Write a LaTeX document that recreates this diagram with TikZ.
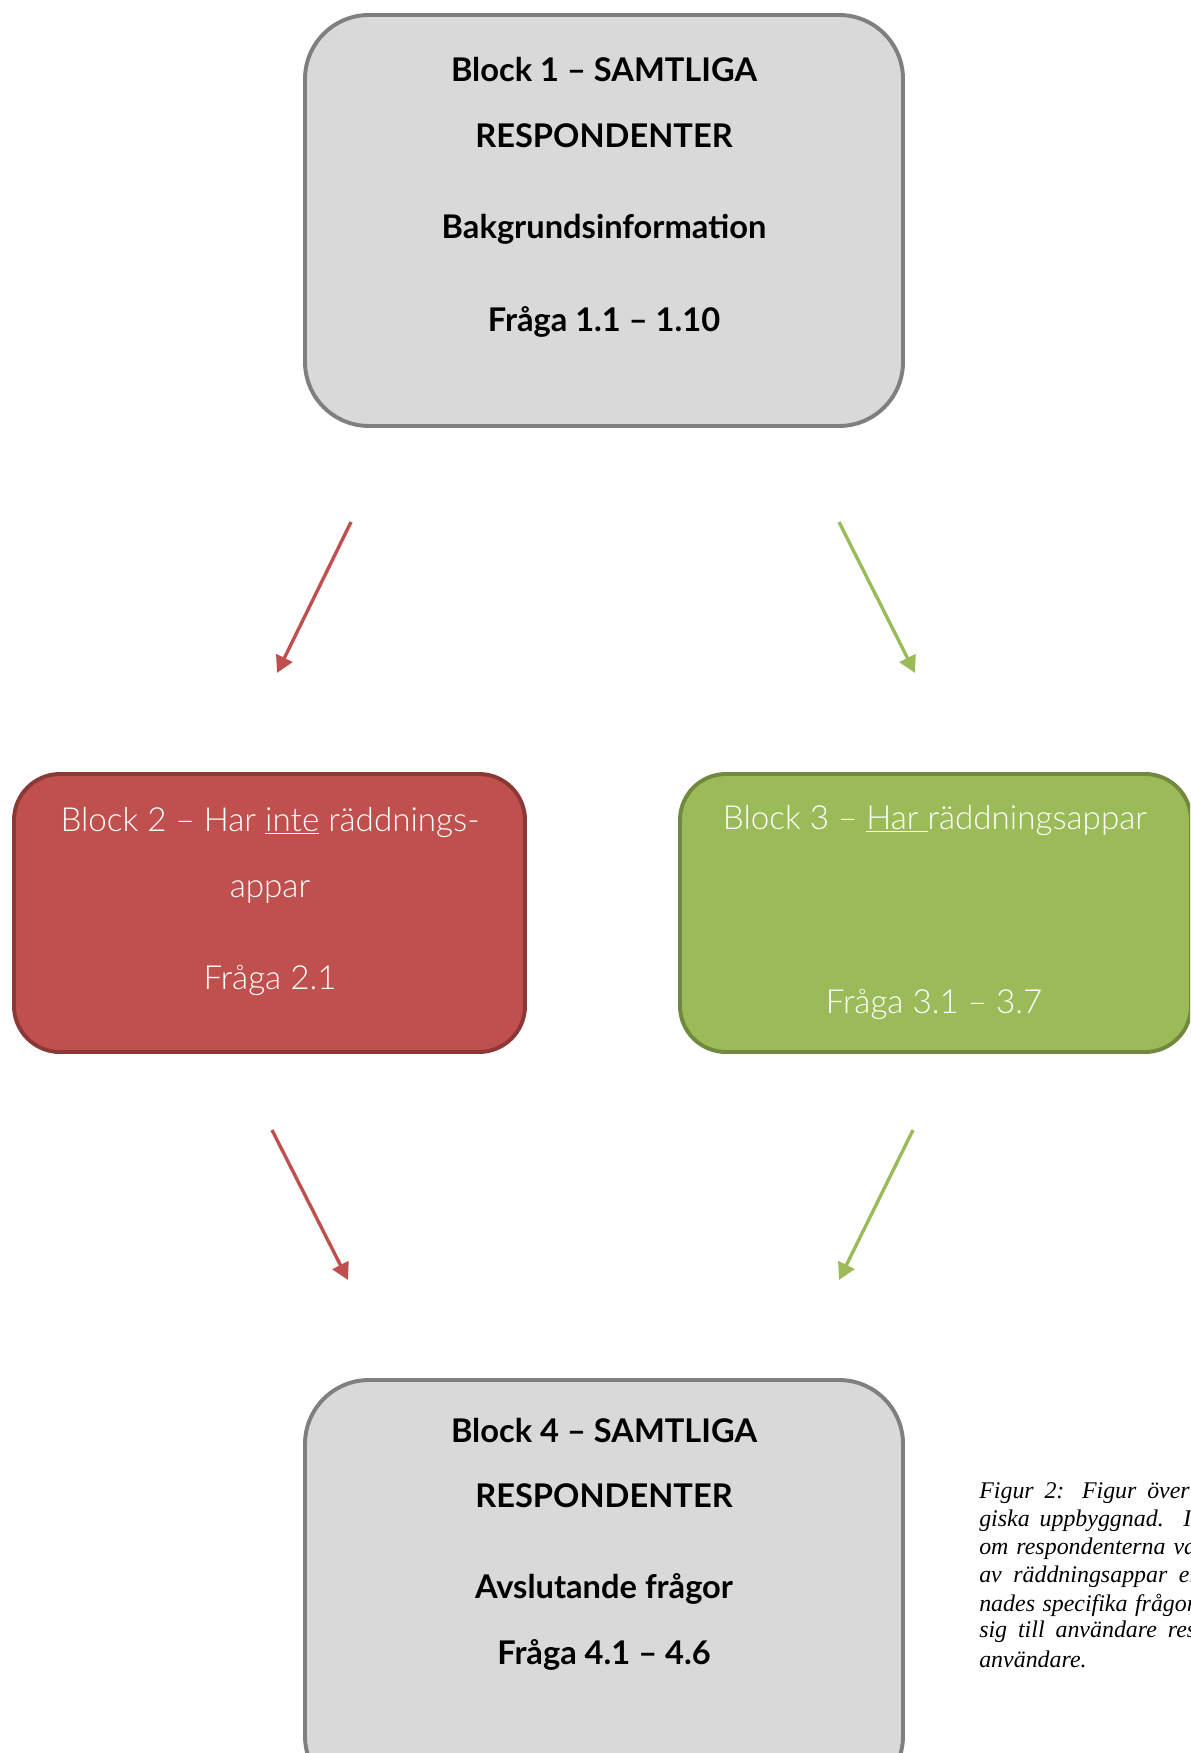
\documentclass[tikz,border=0pt]{standalone}
\usepackage{fontspec}
\usetikzlibrary{arrows.meta,fit}
\setmainfont{Lato}
\newfontfamily\lightfont{Lato Light}
\newfontfamily\capfont{Liberation Serif}

\definecolor{boxgray}{RGB}{217,217,217}
\definecolor{linegray}{RGB}{127,127,127}
\definecolor{nored}{RGB}{192,80,77}
\definecolor{noredline}{RGB}{140,56,54}
\definecolor{yesgreen}{RGB}{155,187,89}
\definecolor{yesgreenline}{RGB}{113,137,63}

\tikzset{
  allbox/.style={draw=linegray, fill=boxgray, line width=2.8pt, rounded corners=1.6cm, inner sep=0pt},
  nobox/.style={draw=noredline, fill=nored, line width=2.8pt, rounded corners=1.15cm, inner sep=0pt},
  yesbox/.style={draw=yesgreenline, fill=yesgreen, line width=2.8pt, rounded corners=1.15cm, inner sep=0pt},
  boldtxt/.style={font=\fontsize{23.2}{28}\selectfont\bfseries, text=black},
  lighttxt/.style={font=\fontsize{23.6}{28}\lightfont, text=white},
  captxt/.style={font=\fontsize{17}{19}\capfont\itshape, anchor=west, inner sep=0pt},
  noarrow/.style={draw=nored, line width=2.4pt, -{Triangle[width=0.44cm,length=0.42cm]}},
  yesarrow/.style={draw=yesgreen, line width=2.4pt, -{Triangle[width=0.44cm,length=0.42cm]}}
}
% caption lines are set justified, running off the right edge
\newcommand{\capline}[2][5.42cm]{\makebox[#1][s]{#2}}

\begin{document}
\begin{tikzpicture}[x=0.025cm, y=-0.025cm]
  \useasboundingbox (0,0) rectangle (1190,1753);
  \clip (0,0) rectangle (1190,1753);

  % block 1, all respondents
  \node[allbox, fit={(305,15) (903,426)}] (b1) {};
  \node[boldtxt] (b1a) at (604,70) {Block 1 – SAMTLIGA};
  \node[boldtxt] (b1b) at (604,136) {RESPONDENTER};
  \node[boldtxt] (b1c) at (604,229) {Bakgrundsinformation};
  \node[boldtxt] (b1d) at (604,322) {Fråga 1.1 – 1.10};

  % block 2 and 3, split on app use
  \node[nobox, fit={(14,774) (525,1052)}] (b2) {};
  \node[lighttxt] (b2a) at (270,822) {Block 2 – Har \underline{inte} räddnings-};
  \node[lighttxt] (b2b) at (270,892) {appar};
  \node[lighttxt] (b2c) at (270,980) {Fråga 2.1};

  \node[yesbox, fit={(680,774) (1191,1052)}] (b3) {};
  \node[lighttxt] (b3a) at (935,820) {Block 3 – \underline{Har\ }räddningsappar};
  \node[lighttxt] (b3b) at (934,1004) {Fråga 3.1 – 3.7};

  % block 4, all respondents again
  \node[allbox, fit={(305,1380) (903,1800)}] (b4) {};
  \node[boldtxt] (b4a) at (604,1430) {Block 4 – SAMTLIGA};
  \node[boldtxt] (b4b) at (604,1496) {RESPONDENTER};
  \node[boldtxt] (b4c) at (604,1589) {Avslutande frågor};
  \node[boldtxt] (b4d) at (604,1655) {Fråga 4.1 – 4.6};

  % arrows
  \coordinate (r1s) at (351,522);  \coordinate (r1e) at (277,673);
  \coordinate (g1s) at (839,522);  \coordinate (g1e) at (915,673);
  \coordinate (r2s) at (272,1130); \coordinate (r2e) at (348,1280);
  \coordinate (g2s) at (913,1130); \coordinate (g2e) at (839,1280);
  \draw[noarrow] (r1s) -- (r1e);
  \draw[yesarrow] (g1s) -- (g1e);
  \draw[noarrow] (r2s) -- (r2e);
  \draw[yesarrow] (g2s) -- (g2e);

  % caption text
  \node[captxt] (c1) at (979,1493) {\capline[5.26cm]{Figur 2: Figur över}};
  \node[captxt] (c2) at (979,1521) {\capline[5.3cm]{giska uppbyggnad. I}};
  \node[captxt] (c3) at (979,1549) {\capline{om respondenterna va}};
  \node[captxt] (c4) at (979,1577) {\capline{av räddningsappar el}};
  \node[captxt] (c5) at (979,1605) {\capline{nades specifika frågor}};
  \node[captxt] (c6) at (979,1632) {\capline{sig till användare res}};
  \node[captxt] (c7) at (979,1659) {användare.};
\end{tikzpicture}
\end{document}
